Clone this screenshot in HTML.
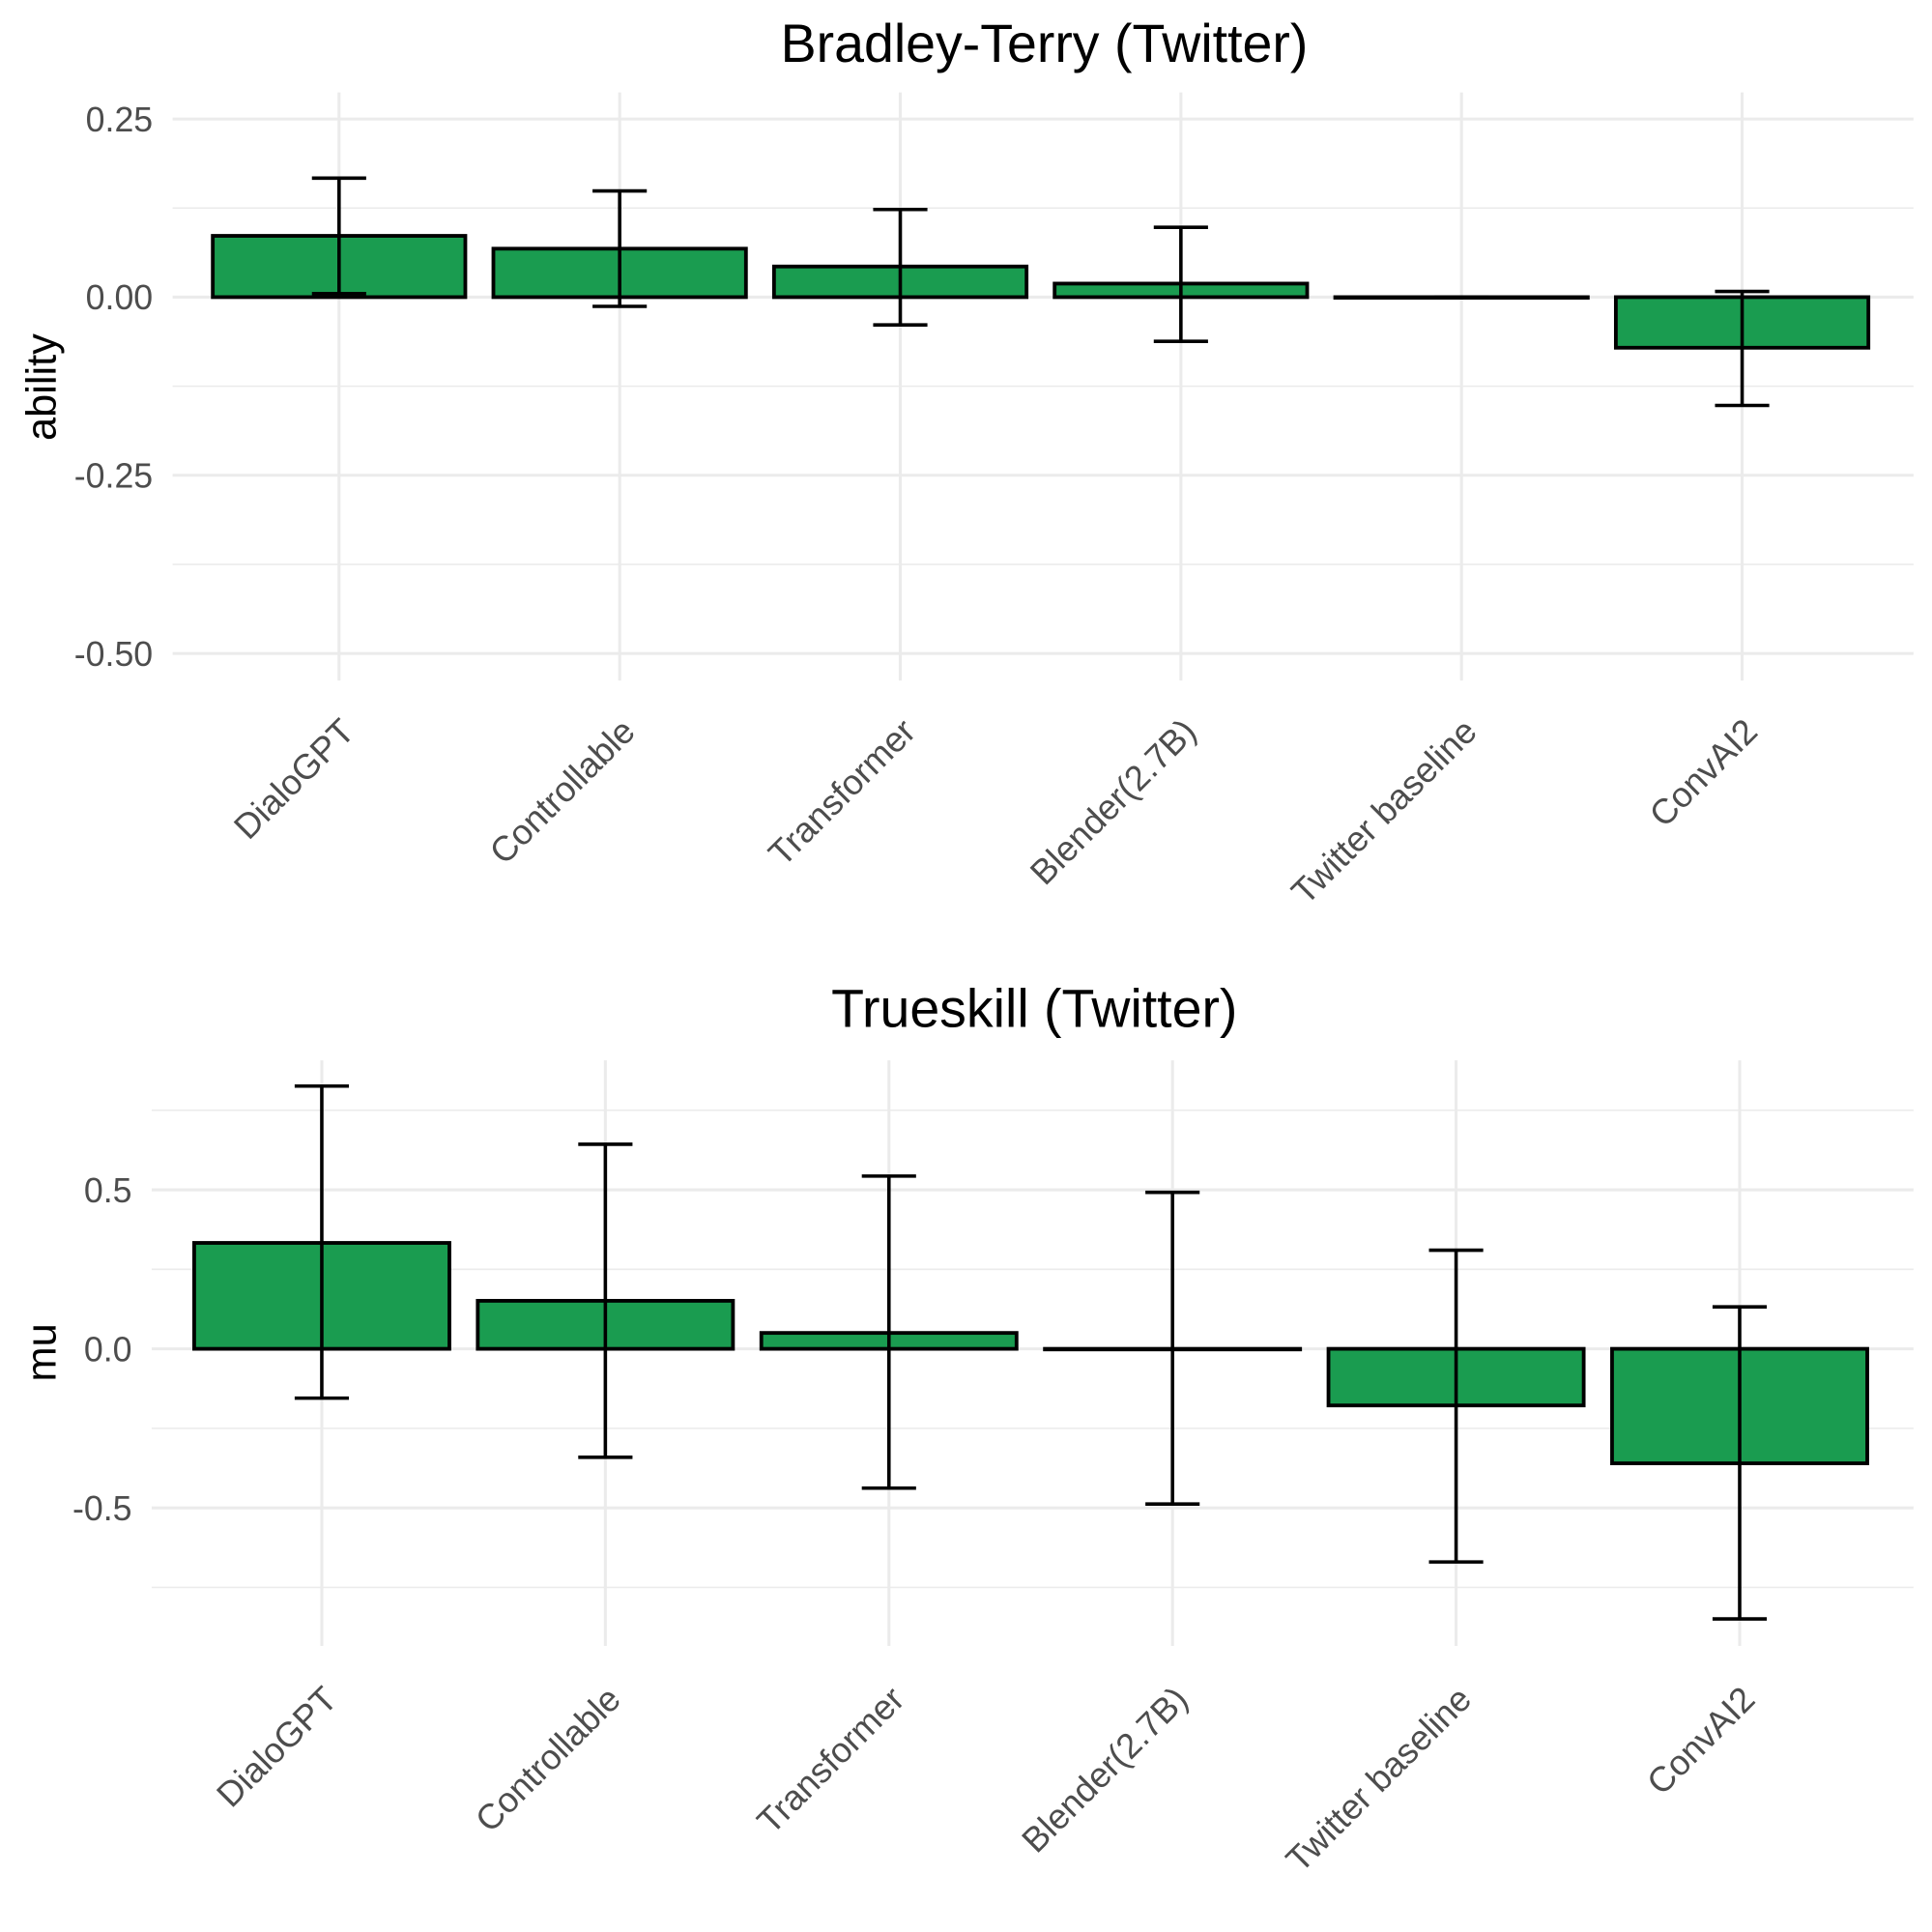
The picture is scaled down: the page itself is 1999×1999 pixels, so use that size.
<!DOCTYPE html>
<html><head><meta charset="utf-8"><style>html,body{margin:0;padding:0;background:#fff}svg{display:block}</style></head>
<body>
<svg id="chart" width="1999" height="1999" viewBox="0 0 1567 1567" xmlns="http://www.w3.org/2000/svg" font-family="Liberation Sans, sans-serif">
<rect width="1567" height="1567" fill="#fff"/>
<g id="top"></g>
<g id="bot"></g>
</svg>
<script>
const categories = ["DialoGPT","Controllable","Transformer","Blender(2.7B)","Twitter baseline","ConvAI2"];
const btValues = [0.086, 0.068, 0.043, 0.019, 0.0, -0.071];
const btLow = [0.005, -0.013, -0.039, -0.062, 0.0, -0.152];
const btHigh = [0.167, 0.149, 0.123, 0.098, 0.0, 0.008];
const btTicks = [0.25, 0, -0.25, -0.5];
const btTickLabels = ["0.25","0.00","-0.25","-0.50"];
const tsValues = [0.333, 0.151, 0.05, 0.0, -0.178, -0.36];
const tsLow = [-0.155, -0.341, -0.438, -0.488, -0.67, -0.849];
const tsHigh = [0.826, 0.643, 0.543, 0.492, 0.31, 0.132];
const tsTicks = [0.5, 0, -0.5];
const tsTickLabels = ["0.5","0.0","-0.5"];
const NS="http://www.w3.org/2000/svg";
function mk(parent,tag,attrs,text){const e=document.createElementNS(NS,tag);for(const k in attrs)e.setAttribute(k,attrs[k]);if(text!==undefined)e.textContent=text;parent.appendChild(e);return e;}
function panel(g,o){
  const y=v=>o.y0-v*o.pxPer;
  const x=i=>o.x0+i*o.step;
  for(let k=0;k<o.ticks.length-1;k++){const m=(o.ticks[k]+o.ticks[k+1])/2;
    const l=mk(g,'line',{x1:o.left,x2:1552,y1:y(m),y2:y(m),stroke:'#ebebeb','stroke-width':1.2});
    
    }
  o.extraMinor.forEach(m=>{const l=mk(g,'line',{x1:o.left,x2:1552,y1:y(m),y2:y(m),stroke:'#ebebeb','stroke-width':1.2});
    
    });
  o.ticks.forEach((t,k)=>{
    const l=mk(g,'line',{x1:o.left,x2:1552,y1:y(t),y2:y(t),stroke:'#ebebeb','stroke-width':2.4});
    
    
    const tx=mk(g,'text',{x:o.left-16,y:y(t)+10,'text-anchor':'end','font-size':28,fill:'#4d4d4d'},o.tickLabels[k]);
    
    
  });
  categories.forEach((c,i)=>{
    const l=mk(g,'line',{x1:x(i),x2:x(i),y1:o.top,y2:o.bottom,stroke:'#ebebeb','stroke-width':2.4});
    
    
  });
  categories.forEach((c,i)=>{
    const v=o.vals[i];const bw=o.step*0.9;
    const r=mk(g,'rect',{x:x(i)-bw/2,y:Math.min(y(v),y(0)),width:bw,height:Math.max(Math.abs(y(v)-y(0)),0.5),fill:'#1a9c50',stroke:'#000','stroke-width':3});
    
    
    const eb=mk(g,'path',{d:`M${x(i)-22},${y(o.hi[i])}H${x(i)+22}M${x(i)},${y(o.hi[i])}V${y(o.lo[i])}M${x(i)-22},${y(o.lo[i])}H${x(i)+22}`,stroke:'#000','stroke-width':2.8,fill:'none'});
    
    
    const t=mk(g,'text',{transform:`translate(${x(i)+14},${o.labelY}) rotate(-45)`,'text-anchor':'end','font-size':28.5,fill:'#4d4d4d'},c);
    
    
  });
  const ti=mk(g,'text',{x:o.titleX,y:o.titleY,'text-anchor':'middle','font-size':43.5,fill:'#000'},o.title);
  
  
  const yt=mk(g,'text',{transform:`translate(45,${o.yTitleY}) rotate(-90)`,'text-anchor':'middle','font-size':34,fill:'#000'},o.yTitle);
  
  
}
panel(document.getElementById('top'),{y0:241,pxPer:578,x0:275,step:227.6,left:140,top:75,bottom:552,ticks:btTicks,tickLabels:btTickLabels,vals:btValues,lo:btLow,hi:btHigh,labelY:595,title:'Bradley-Terry (Twitter)',titleX:847,titleY:50,extraMinor:[],yTitle:'ability',yTitleY:314});
panel(document.getElementById('bot'),{y0:1094,pxPer:258,x0:261,step:230,left:123,top:860,bottom:1335,ticks:tsTicks,tickLabels:tsTickLabels,vals:tsValues,lo:tsLow,hi:tsHigh,labelY:1380,title:'Trueskill (Twitter)',titleX:839,titleY:833,extraMinor:[0.75,-0.75],yTitle:'mu',yTitleY:1097});
</script>
</body></html>
